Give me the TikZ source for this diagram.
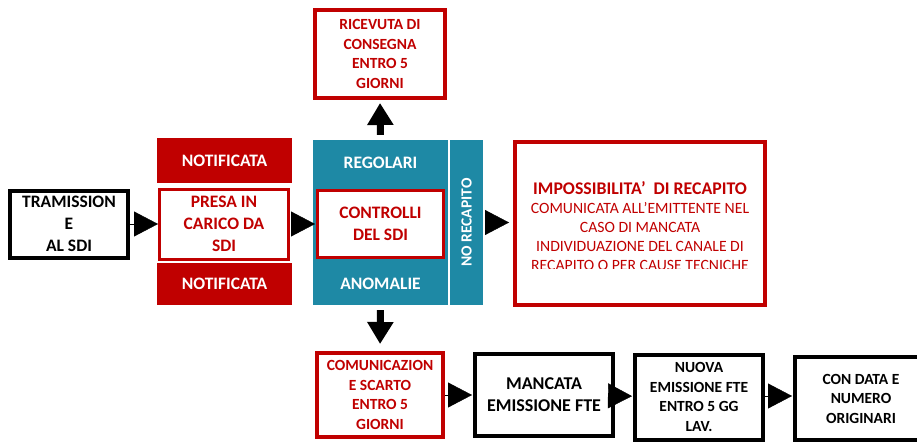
\documentclass[tikz,border=0pt]{standalone}
\usepackage{fontspec}
\setmainfont{Carlito}
\usetikzlibrary{arrows.meta}
\definecolor{scuro}{RGB}{192,0,0}
\definecolor{petrolio}{RGB}{30,137,165}
\newcommand{\grande}{\fontsize{17.5}{22}\selectfont\bfseries}
\newcommand{\medio}{\fontsize{15.5}{19.5}\selectfont\bfseries}

\begin{document}
\begin{tikzpicture}[x=1pt,y=-1pt,
    nerobox/.style={draw=black,line width=4pt,fill=white,align=center,inner sep=0pt},
    rossobox/.style={draw=scuro,line width=4pt,fill=white,text=scuro,align=center,inner sep=0pt},
    pienobox/.style={fill=scuro,text=white,align=center,inner sep=0pt,font=\grande},
    tealbox/.style={fill=petrolio,text=white,align=center,inner sep=0pt},
    punta/.style={line width=0.4pt,-{Triangle[length=24pt,width=25pt]}},
    freccia/.style={line width=7pt,-{Triangle[length=22pt,width=25pt]}}]
        \useasboundingbox (0,0) rectangle (917,444);
        \clip (0,0) rectangle (917,444);

        % riga centrale
        \node[nerobox,font=\grande,minimum width=118pt,minimum height=67pt] (tram) at (69,224) {TRAMISSION\\E\\AL SDI};
        \node[pienobox,minimum width=135pt,minimum height=45pt] (notifA) at (224.5,160.5) {NOTIFICATA};
        \node[rossobox,line width=3pt,font=\grande,minimum width=129pt,minimum height=70pt] (presa) at (224,224) {PRESA IN\\CARICO DA\\SDI};
        \node[pienobox,minimum width=135pt,minimum height=42pt] (notifB) at (224.5,284) {NOTIFICATA};

        % blocco controlli
        \fill[petrolio] (313,186) rectangle (448,262);
        \node[tealbox,font=\grande,minimum width=135pt,minimum height=46pt] (regolari) at (380.5,163) {REGOLARI};
        \node[rossobox,line width=3pt,font=\grande,minimum width=126pt,minimum height=67pt] (controlli) at (380.5,224) {CONTROLLI\\DEL SDI};
        \node[tealbox,font=\grande,minimum width=135pt,minimum height=43pt] (anomalie) at (380.5,283.5) {ANOMALIE};
        \node[tealbox,font=\medio,rotate=90,minimum width=165pt,minimum height=33pt] (norecapito) at (466.5,222.5) {NO RECAPITO};

        \node[rossobox,font=\medio,minimum width=130pt,minimum height=88pt] (ricevuta) at (380,54) {RICEVUTA DI\\CONSEGNA\\ENTRO 5\\GIORNI};

        % riquadro impossibilita'
        \begin{scope}
            \clip (513,140) rectangle (767,268);
            \node[text=scuro,align=center,font=\fontsize{15.7}{19}\selectfont] (impostesto) at (640,226)
                {{\fontsize{17.8}{20}\selectfont\bfseries IMPOSSIBILITA’~~DI RECAPITO}\\COMUNICATA ALL’EMITTENTE NEL\\CASO DI MANCATA\\INDIVIDUAZIONE DEL CANALE DI\\RECAPITO O PER CAUSE TECNICHE};
        \end{scope}
        \node[draw=scuro,line width=4pt,minimum width=250pt,minimum height=163pt] (impos) at (640,223.5) {};

        % riga in basso
        \node[rossobox,font=\medio,minimum width=126pt,minimum height=84pt] (scarto) at (380,395) {COMUNICAZION\\E SCARTO\\ENTRO 5\\GIORNI};
        \node[nerobox,font=\fontsize{18}{22}\selectfont\bfseries,minimum width=138pt,minimum height=82pt] (mancata) at (544,395) {MANCATA\\EMISSIONE FTE};
        \node[nerobox,font=\medio,minimum width=128pt,minimum height=85pt] (nuova) at (699,397) {NUOVA\\EMISSIONE FTE\\ENTRO 5 GG\\LAV.};
        \node[nerobox,font=\medio,minimum width=132pt,minimum height=83pt] (condata) at (861,398.5) {CON DATA E\\NUMERO\\ORIGINARI};

        % frecce
        \draw[punta] (tram) -- (presa);
        \draw[punta,shorten <=2pt,shorten >=1pt] (presa) -- (controlli);
        \draw[punta,shorten <=2pt,shorten >=4pt] (norecapito.south) -- (impos.west |- norecapito.south);
        \draw[freccia,shorten <=5pt,shorten >=3pt] (regolari.north) -- (ricevuta.south);
        \draw[freccia,shorten <=5pt,shorten >=7pt] (anomalie.south) -- (scarto.north);
        \draw[punta,shorten >=1pt] (scarto.east |- mancata) -- (mancata);
        \draw[punta,shorten >=1pt] (mancata) -- (nuova);
        \draw[punta,shorten >=1pt] (nuova.east |- 0,396) -- (condata.west |- 0,396);

    \end{tikzpicture}
\end{document}
